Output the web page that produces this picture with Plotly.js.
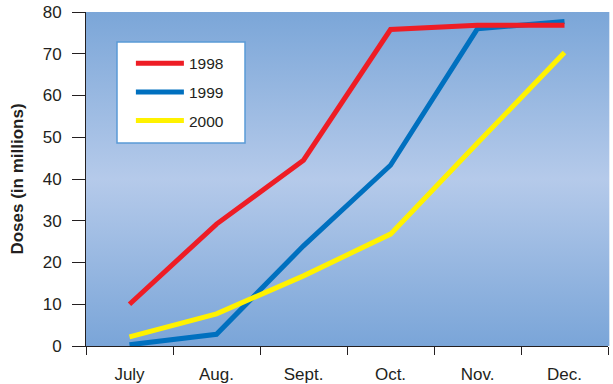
<!DOCTYPE html>
<html>
<head>
<meta charset="utf-8">
<script src="https://cdn.plot.ly/plotly-3.0.1.min.js"></script>
<style>html,body{margin:0;padding:0;background:#fff;}#chart{width:613px;height:384px;}</style>
</head>
<body>
<div id="chart"></div>
<script>
var months = ['July', 'Aug.', 'Sept.', 'Oct.', 'Nov.', 'Dec.'];
var doses1998 = [10, 29.2, 44.5, 75.8, 76.8, 76.8];
var doses1999 = [0.3, 2.8, 24, 43.3, 76, 77.7];
var doses2000 = [2.2, 7.7, 16.8, 26.8, 48.6, 70.3];
var seriesNames = ['1998', '1999', '2000'];
var yTicks = [0, 10, 20, 30, 40, 50, 60, 70, 80];

var FONT = 'Liberation Sans, Arial, Helvetica, sans-serif';
var INK = '#231F20';

var svgBg = "<svg xmlns='http://www.w3.org/2000/svg' width='100' height='100' viewBox='0 0 100 100' preserveAspectRatio='none'>" +
  "<defs><linearGradient id='g' x1='0' y1='0' x2='0' y2='1'>" +
  "<stop offset='0' stop-color='#7BA6D8'/><stop offset='0.5' stop-color='#B5CAEA'/><stop offset='1' stop-color='#7AA5D8'/>" +
  "</linearGradient></defs><rect x='0' y='0' width='100' height='100' fill='url(#g)'/></svg>";
var bgUri = 'data:image/svg+xml;base64,' + btoa(svgBg);

function trace(name, vals, color, rank) {
  return {
    type: 'scatter', mode: 'lines', name: name, x: months, y: vals,
    line: {color: color, width: 5, shape: 'linear'},
    legendgroup: name, legendrank: rank, hoverinfo: 'skip'
  };
}

var data = [
  trace(seriesNames[1], doses1999, '#0070BF', 2),
  trace(seriesNames[2], doses2000, '#FFF200', 3),
  trace(seriesNames[0], doses1998, '#EE1D25', 1)
];

var layout = {
  width: 613, height: 384,
  margin: {l: 86, r: 5, t: 12, b: 38},
  paper_bgcolor: '#ffffff',
  plot_bgcolor: 'rgba(0,0,0,0)',
  font: {family: FONT, color: INK, size: 17},
  showlegend: true,
  legend: {
    x: 0.086, y: 0.896, xanchor: 'left', yanchor: 'top',
    bgcolor: 'rgba(0,0,0,0)', borderwidth: 0,
    font: {family: FONT, size: 15.5, color: INK},
    traceorder: 'grouped', tracegroupgap: 5.5, itemwidth: 48
  },
  xaxis: {
    type: 'category', range: [-0.5, 5.5],
    tickvals: months, ticktext: months,
    tickson: 'boundaries', ticks: 'outside', ticklen: 8, tickwidth: 1, tickcolor: INK,
    showline: true, linecolor: INK, linewidth: 1,
    showgrid: false, zeroline: false,
    ticklabelstandoff: 13,
    tickfont: {family: FONT, size: 17, color: INK},
    fixedrange: true
  },
  yaxis: {
    range: [0, 80], tickvals: yTicks, ticktext: yTicks.map(String),
    ticks: 'outside', ticklen: 13, tickwidth: 1, tickcolor: INK,
    showline: true, linecolor: INK, linewidth: 1,
    showgrid: false, zeroline: false,
    ticklabelstandoff: 7,
    tickfont: {family: FONT, size: 17, color: INK},
    title: {text: '<b>Doses (in millions)</b>', font: {family: FONT, size: 17, color: INK}, standoff: 14},
    automargin: false,
    fixedrange: true
  },
  images: [{
    source: bgUri, xref: 'paper', yref: 'paper', x: 0, y: 1, sizex: 1.003, sizey: 1,
    xanchor: 'left', yanchor: 'top', sizing: 'stretch', layer: 'below'
  }],
  shapes: [{
    type: 'rect', xref: 'paper', yref: 'paper',
    x0: 0.0594, x1: 0.3046, y0: 0.608, y1: 0.910,
    fillcolor: '#FFFFFF', line: {color: '#5A9AD6', width: 1.5}, layer: 'below'
  }]
};

Plotly.newPlot('chart', data, layout, {displayModeBar: false, staticPlot: true});
</script>
</body>
</html>
